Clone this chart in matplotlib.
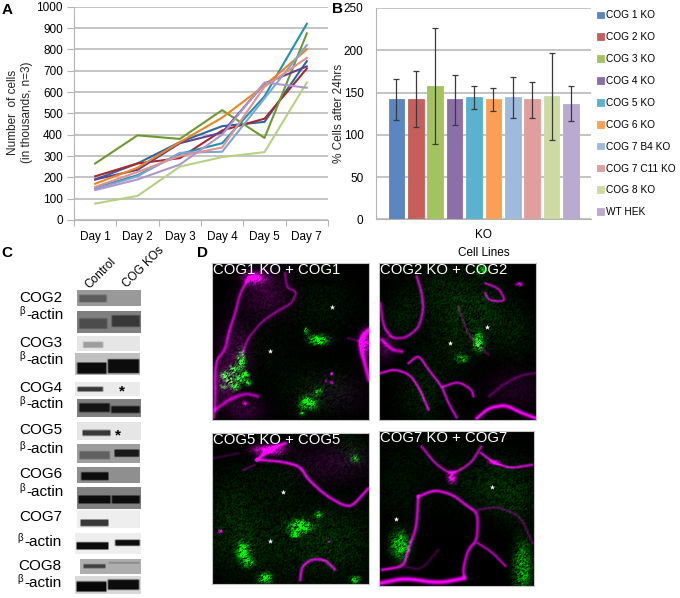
import numpy as np
import matplotlib
matplotlib.use("Agg")
import matplotlib.pyplot as plt

plt.rcParams['font.family'] = ['Liberation Sans', 'DejaVu Sans']

W, H = 680, 598

# panel A, cell counts
days = ["Day 1", "Day 2", "Day 3", "Day 4", "Day 5", "Day 7"]
cog1_counts = [190, 265, 365, 440, 460, 745]
cog2_counts = [205, 265, 290, 420, 475, 710]
cog3_counts = [265, 397, 380, 515, 385, 875]
cog4_counts = [190, 235, 360, 410, 640, 720]
cog5_counts = [150, 210, 310, 360, 580, 920]
cog6_counts = [170, 245, 365, 480, 630, 800]
cog7b4_counts = [145, 205, 315, 320, 570, 820]
cog7c11_counts = [155, 225, 300, 340, 625, 760]
cog8_counts = [77, 113, 250, 295, 318, 645]
wt_counts = [140, 190, 260, 400, 645, 620]

# panel B, % cells after 24hrs
lines = ["COG 1 KO", "COG 2 KO", "COG 3 KO", "COG 4 KO", "COG 5 KO", "COG 6 KO",
         "COG 7 B4 KO", "COG 7 C11 KO", "COG 8 KO", "WT HEK"]
pct = [142, 142.5, 158, 142, 145, 142.5, 144.5, 142, 146, 137]
pct_hi = [166, 175, 226, 171, 158, 156, 168, 163, 197, 158]
pct_lo = [118, 109, 89, 112, 131, 128, 120, 120, 94, 116]

line_colors = ["#2B66A6", "#A9282C", "#6C9A2E", "#5F4391", "#1F93AE", "#F0831E",
               "#7FA4D6", "#E39090", "#B5D183", "#AE96C8"]
bar_colors = ["#5B86BF", "#C65F5C", "#A5C261", "#8C6EA8", "#5AB2CC", "#F9A055",
              "#9FBBDC", "#E09E9D", "#CBDCA3", "#BAAAD0"]
grid_gray = "#B4B4B4"

# panel C, blots in 3x pixel coords: x0, x1, y0, y1, background,
# then bands as (x0, x1, y, thick, gray)
blots = [
    (230, 422, 122, 168, .60, [(232, 322, 146, 22, .36)]),
    (230, 420, 182, 248, .50, [(232, 322, 220, 32, .30), (330, 420, 212, 36, .22)]),
    (232, 420, 260, 303, .90, [(246, 312, 285, 18, .62)]),
    (226, 420, 312, 376, .75, [(228, 322, 356, 34, .05), (320, 420, 350, 42, .05)]),
    (225, 420, 398, 438, .92, [(228, 312, 418, 14, .22)]),
    (232, 422, 448, 502, .50, [(234, 332, 474, 28, .08), (330, 422, 480, 22, .08)]),
    (230, 420, 516, 570, .90, [(242, 332, 549, 18, .22)]),
    (232, 420, 584, 640, .62, [(235, 332, 616, 24, .38), (340, 420, 610, 22, .10)]),
    (232, 420, 654, 700, .56, [(240, 328, 680, 24, .05)]),
    (230, 420, 714, 778, .50, [(230, 332, 750, 24, .05), (330, 420, 750, 24, .05)]),
    (232, 420, 782, 835, .93, [(238, 328, 819, 20, .22)]),
    (224, 420, 850, 912, .93, [(224, 326, 887, 22, .05), (340, 420, 878, 18, .05)]),
    (240, 422, 928, 972, .68, [(246, 318, 948, 12, .25), (322, 420, 938, 5, .52)]),
    (226, 422, 978, 1032, .85, [(226, 322, 1010, 32, .03), (320, 420, 1004, 32, .05)]),
]
blot_labels = [("COG2", 58, 155), ("COG3", 58, 292), ("COG4", 58, 427), ("COG5", 58, 552),
               ("COG6", 58, 685), ("COG7", 58, 812), ("COG8", 54, 961)]
actin_labels = [(58, 207), (58, 341), (58, 475), (58, 610), (58, 737), (52, 887), (52, 1011)]
stars_c = [(367, 408), (355, 540)]

# panel D, traced from the micrographs, 3x pixel coords
# box is x0, x1, y0, y1; traces are (level, width, points); blobs are (x, y, sx, sy, level)
d_panels = [
    dict(title="COG1 KO + COG1", box=(22, 493, 38, 510), stars=[(381, 172), (194, 304)],
         traces=[(.5, 3, [(240, 70), (245, 115), (275, 125), (260, 160), (215, 185), (170, 215), (125, 270), (110, 320)]),
                 (.7, 3.5, [(130, 85), (105, 130), (90, 190), (70, 250), (60, 300), (30, 335), (30, 470), (25, 505)]),
                 (.65, 4, [(30, 480), (70, 450), (120, 430), (160, 440)]),
                 (.9, 5, [(492, 240), (470, 260), (465, 290), (492, 390)]),
                 (.3, 3, [(430, 265), (465, 275)])],
         magenta=[(148, 85, 20, 12, 1), (480, 280, 12, 25, .8), (380, 372, 3, 3, 1), (363, 393, 3, 3, 1),
                  (380, 398, 3, 3, 1), (120, 460, 5, 4, .8), (180, 130, 50, 50, .2), (90, 300, 35, 60, .2),
                  (60, 400, 25, 40, .28), (120, 480, 40, 25, .18), (400, 430, 70, 40, .07)],
         green=[(60, 378, 9, 9, .8), (85, 360, 9, 9, .8), (105, 385, 9, 9, .9), (122, 375, 7, 8, .8),
                (90, 410, 9, 8, .8), (55, 410, 7, 7, .5), (108, 332, 8, 18, .85), (75, 392, 8, 8, .7),
                (128, 398, 7, 7, .6), (340, 270, 18, 9, 1), (302, 243, 4, 6, .9),
                (310, 460, 16, 12, .9), (338, 425, 8, 8, .5), (290, 490, 5, 5, .7), (350, 170, 70, 60, .06),
                (180, 300, 60, 80, .03), (340, 420, 70, 50, .08)]),
    dict(title="COG2 KO + COG2", box=(523, 992, 38, 510), stars=[(734, 278), (845, 232)],
         traces=[(.7, 3.5, [(635, 80), (650, 130), (655, 180), (640, 235), (600, 265), (560, 265), (535, 230), (525, 160)]),
                 (.75, 4, [(530, 270), (560, 300), (590, 305)]),
                 (.8, 3, [(610, 340), (640, 315), (670, 360), (710, 410), (730, 460), (755, 505)]),
                 (.85, 3, [(525, 370), (570, 358), (615, 375), (645, 420), (670, 480)]),
                 (.8, 3, [(715, 410), (760, 395), (800, 420), (805, 440)]),
                 (1, 4, [(815, 505), (850, 475), (900, 465), (950, 490), (992, 505)]),
                 (.7, 3, [(840, 130), (850, 150), (880, 155), (900, 150), (880, 115), (840, 100)]),
                 (.3, 3, [(992, 370), (950, 375), (900, 400), (850, 440)]),
                 (.3, 3, [(760, 170), (790, 260), (850, 315)])],
         magenta=[(942, 103, 7, 4, 1), (930, 420, 60, 40, .11), (540, 290, 20, 30, .22)],
         green=[(820, 278, 9, 16, 1), (770, 325, 12, 9, .5), (830, 60, 10, 10, .6), (830, 200, 60, 60, .12),
                (720, 130, 70, 60, .1), (590, 200, 40, 50, .07), (650, 430, 50, 60, .09), (935, 250, 40, 60, .06),
                (730, 290, 50, 60, .07)]),
    dict(title="COG5 KO + COG5", box=(22, 493, 548, 1002), stars=[(233, 725), (194, 872)],
         traces=[(.9, 4, [(155, 630), (200, 595), (240, 580)]),
                 (.85, 3.5, [(155, 630), (230, 635), (285, 650), (310, 690), (360, 735), (410, 765), (440, 770), (490, 715)]),
                 (.3, 3, [(115, 660), (150, 645)]),
                 (.8, 3.5, [(285, 990), (290, 950), (320, 928), (360, 930), (390, 960)]),
                 (.2, 3, [(25, 625), (100, 610)])],
         magenta=[(190, 600, 30, 10, 1), (45, 845, 4, 4, 1), (370, 875, 3, 3, .6), (380, 640, 80, 40, .13)],
         green=[(285, 830, 20, 12, 1), (270, 855, 8, 5, .9), (340, 795, 7, 6, .7), (115, 905, 12, 18, .8),
                (130, 940, 10, 8, .7), (180, 985, 12, 10, .8), (450, 990, 9, 7, .7), (450, 625, 8, 8, .4),
                (230, 880, 150, 90, .09), (80, 790, 60, 90, .08), (400, 870, 70, 70, .08), (220, 680, 70, 50, .05),
                (440, 600, 40, 40, .08)]),
    dict(title="COG7 KO + COG7", box=(523, 988, 542, 1008), stars=[(860, 710), (574, 806)],
         traces=[(.75, 3, [(650, 590), (690, 640), (740, 675), (800, 640), (830, 590)]),
                 (.85, 3, [(830, 610), (870, 640), (920, 655), (985, 645)]),
                 (.85, 3.5, [(640, 740), (690, 720), (745, 735), (790, 770), (820, 790), (818, 870), (790, 900), (775, 960), (780, 985)]),
                 (.85, 3.5, [(640, 740), (635, 830), (610, 900), (595, 950), (530, 960)]),
                 (1, 5, [(525, 1000), (600, 985), (700, 1000), (780, 985)]),
                 (.7, 3, [(820, 880), (860, 905), (905, 950)]),
                 (.3, 3, [(820, 780), (880, 770), (950, 800), (985, 880)]),
                 (.25, 3, [(595, 950), (650, 960), (700, 900)])],
         magenta=[(742, 682, 9, 12, 1), (870, 638, 12, 5, .8)],
         green=[(585, 885, 18, 26, .7), (955, 950, 18, 50, .5), (860, 700, 80, 60, .12), (590, 700, 60, 90, .05),
                (935, 750, 40, 50, .09), (700, 620, 40, 40, .03)]),
]


def px_axes(fig, x0, x1, y0, y1):
    # axes from pixel edges, y measured from the top
    return fig.add_axes([x0 / W, 1 - y1 / H, (x1 - x0) / W, (y1 - y0) / H])


def gauss_layer(xs, ys, blobs):
    out = np.zeros((len(ys), len(xs)))
    for x, y, sx, sy, amp in blobs:
        out += amp * np.outer(np.exp(-(ys - y) ** 2 / (2 * sy ** 2)),
                              np.exp(-(xs - x) ** 2 / (2 * sx ** 2)))
    return out


def smooth_path(pts):
    # corner cutting, the traces are only a few clicks each
    pts = np.array(pts, float)
    for _ in range(2):
        q = 0.8 * pts[:-1] + 0.2 * pts[1:]
        r = 0.2 * pts[:-1] + 0.8 * pts[1:]
        mid = np.empty((2 * len(q), 2))
        mid[0::2], mid[1::2] = q, r
        pts = np.vstack([pts[0], mid, pts[-1]])
    return pts


def trace_layer(xs, ys, traces):
    out = np.zeros((len(ys), len(xs)))
    for amp, width, pts in traces:
        pts = smooth_path(pts)
        seg = np.hypot(*np.diff(pts, axis=0).T)
        dist = np.r_[0, np.cumsum(seg)]
        t = np.arange(0, dist[-1], 3.0)
        px, py = np.interp(t, dist, pts[:, 0]), np.interp(t, dist, pts[:, 1])
        layer = np.zeros_like(out)
        for a, b in zip(px, py):
            d = np.exp(-((xs[None, :] - a) ** 2 + (ys[:, None] - b) ** 2) / (2 * width ** 2))
            layer = np.maximum(layer, d)
        out += amp * layer
    return out


def grain(xs, ys):
    # micrograph texture only, fixed hash of the pixel position, softened a little
    v = np.sin(xs[None, :] * 12.9898 + ys[:, None] * 78.233) * 43758.5453
    v = v - np.floor(v)
    v = (v + np.roll(v, 1, 0) + np.roll(v, 1, 1)) / 3
    return np.clip((v - 0.5) * 3 + 1, 0, None)


fig = plt.figure(figsize=(W / 100, H / 100), dpi=100)

# ---- A
ax_a = px_axes(fig, 74, 328, 6.7, 220)
for vals, col in zip([cog1_counts, cog2_counts, cog3_counts, cog4_counts, cog5_counts, cog6_counts,
                      cog7b4_counts, cog7c11_counts, cog8_counts, wt_counts], line_colors):
    ax_a.plot(np.arange(len(days)) + 0.5, vals, color=col, lw=1.5, zorder=3)
ax_a.set_xlim(0, 6)
ax_a.set_ylim(0, 1000)
ax_a.set_yticks(range(0, 1001, 100))
ax_a.set_xticks(range(7))
ax_a.set_xticklabels([])
ax_a.set_xticks(np.arange(6) + 0.5, days, minor=True)
ax_a.tick_params(axis='x', which='minor', length=0, labelsize=8.5, pad=8)
ax_a.tick_params(axis='x', which='major', length=4, color=grid_gray)
ax_a.tick_params(axis='y', length=5, color=grid_gray, labelsize=8.5, pad=3)
ax_a.yaxis.grid(True, color=grid_gray, lw=1.1)
ax_a.set_axisbelow(True)
for s in ['top', 'right']:
    ax_a.spines[s].set_visible(False)
for s in ['left', 'bottom']:
    ax_a.spines[s].set_color(grid_gray)

# ---- B
ax_b = px_axes(fig, 376, 591, 8, 219.5)
xpos = np.arange(len(lines))
pct_a = np.array(pct)
bars = ax_b.bar(xpos, pct, width=0.8, color=bar_colors, edgecolor=bar_colors, lw=0.6, zorder=2)
ax_b.errorbar(xpos, pct, yerr=[pct_a - np.array(pct_lo), np.array(pct_hi) - pct_a], fmt='none',
              ecolor="#3A3A3A", elinewidth=0.9, capsize=2.3, capthick=0.9, zorder=3)
ax_b.set_xlim(-1.05, 10.03)
ax_b.set_ylim(0, 250)
ax_b.set_yticks(range(0, 251, 50))
ax_b.set_xticks([4.5], ["KO"])
ax_b.set_xlabel("Cell Lines", fontsize=8.5, labelpad=4)
ax_b.tick_params(axis='x', length=0, labelsize=8.5, pad=7)
ax_b.tick_params(axis='y', length=0, labelsize=8.5, pad=9)
ax_b.yaxis.grid(True, color=grid_gray, lw=1.1)
ax_b.set_axisbelow(True)
for s in ['top', 'right']:
    ax_b.spines[s].set_visible(False)
for s in ['left', 'bottom']:
    ax_b.spines[s].set_color(grid_gray)
fig.legend(bars, lines, loc='upper left', bbox_to_anchor=(597 / W, 1 - 10.5 / H), frameon=False,
           fontsize=7.3, handlelength=0.65, handleheight=0.65, handletextpad=0.2,
           labelspacing=1.17, borderpad=0, borderaxespad=0)

# ---- overlay in pixel coords for the loose labels
ov = px_axes(fig, 0, W, 0, H)
ov.set_xlim(0, W)
ov.set_ylim(H, 0)
ov.axis('off')
ov.patch.set_alpha(0)
ov.text(20, 112, "Number  of cells\n(in thousands, n=3)", rotation=90, ha='center', va='center',
        fontsize=8.5, linespacing=1.15, multialignment='center', color="#222222")
ov.text(339, 113, "% Cells after 24hrs", rotation=90, ha='center', va='center', fontsize=8.5, color="#222222")
for letter, x, y in [("A", 2, 14), ("B", 332, 13), ("C", 1, 257), ("D", 197, 257)]:
    ov.text(x, y, letter, fontsize=11, fontweight='bold', va='baseline')

# ---- C, coords are 3x pixels from (0, 250)
ax_c = px_axes(fig, 0, 210, 250, 598)
ax_c.axis('off')
ax_c.patch.set_alpha(0)
for x0, x1, y0, y1, bg, bands in blots:
    xs = np.arange(x0, x1 + 1, 3.0)
    ys = np.arange(y0, y1 + 1, 3.0)
    img = np.full((len(ys), len(xs)), float(bg))
    for bx0, bx1, by, thick, g in bands:
        vert = np.clip((thick / 2 - np.abs(ys - by)) / 5 + 0.5, 0, 1)
        horiz = np.clip((xs - bx0) / 6, 0, 1) * np.clip((bx1 - xs) / 6, 0, 1)
        mask = np.outer(vert, horiz)
        img = img * (1 - mask) + g * mask
    ax_c.imshow(img, extent=(x0, x1, y1, y0), cmap='gray', vmin=0, vmax=1,
                interpolation='bilinear', aspect='auto')
ax_c.set_xlim(0, 630)
ax_c.set_ylim(1044, 0)
for name, x, y in blot_labels:
    ax_c.text(x, y, name, fontsize=11, va='baseline')
for x, y in actin_labels:
    ax_c.text(x, y - 14, "β", fontsize=7, va='baseline')
    ax_c.text(x + 20, y, "-actin", fontsize=11, va='baseline')
for x, y in stars_c:
    ax_c.text(x, y + 16, "*", fontsize=11, fontweight='bold', ha='center', va='center')
ov.text(89, 289, "Control", rotation=45, rotation_mode='anchor', fontsize=8.5, va='baseline')
ov.text(127, 288, "COG KOs", rotation=45, rotation_mode='anchor', fontsize=8.5, va='baseline')

# ---- D, coords are 3x pixels from (205, 250)
for p in d_panels:
    bx0, bx1, by0, by1 = p['box']
    ax = px_axes(fig, 205 + bx0 / 3, 205 + bx1 / 3, 250 + by0 / 3, 250 + by1 / 3)
    xs = np.arange(bx0, bx1 + 1, 3.0)
    ys = np.arange(by0, by1 + 1, 3.0)
    tex = grain(xs, ys)
    mag = trace_layer(xs, ys, p['traces']) + gauss_layer(xs, ys, p['magenta']) * (0.5 + 0.5 * tex)
    grn = gauss_layer(xs, ys, p['green']) * tex
    rgb = np.clip(np.dstack([mag, grn, mag]), 0, 1)
    ax.imshow(rgb, extent=(bx0, bx1, by1, by0), interpolation='bilinear', aspect='auto')
    ax.scatter(*zip(*p['stars']), marker='*', s=16, color='white', lw=0)
    ax.text(bx0 + 1, by0 + 34, p['title'], color='white', fontsize=10.7, va='baseline')
    ax.set_xlim(bx0, bx1)
    ax.set_ylim(by1, by0)
    ax.set_xticks([])
    ax.set_yticks([])
    for s in ax.spines.values():
        s.set_color("#C4C4C4")
        s.set_linewidth(0.8)

fig.savefig("out.png", dpi=100)
